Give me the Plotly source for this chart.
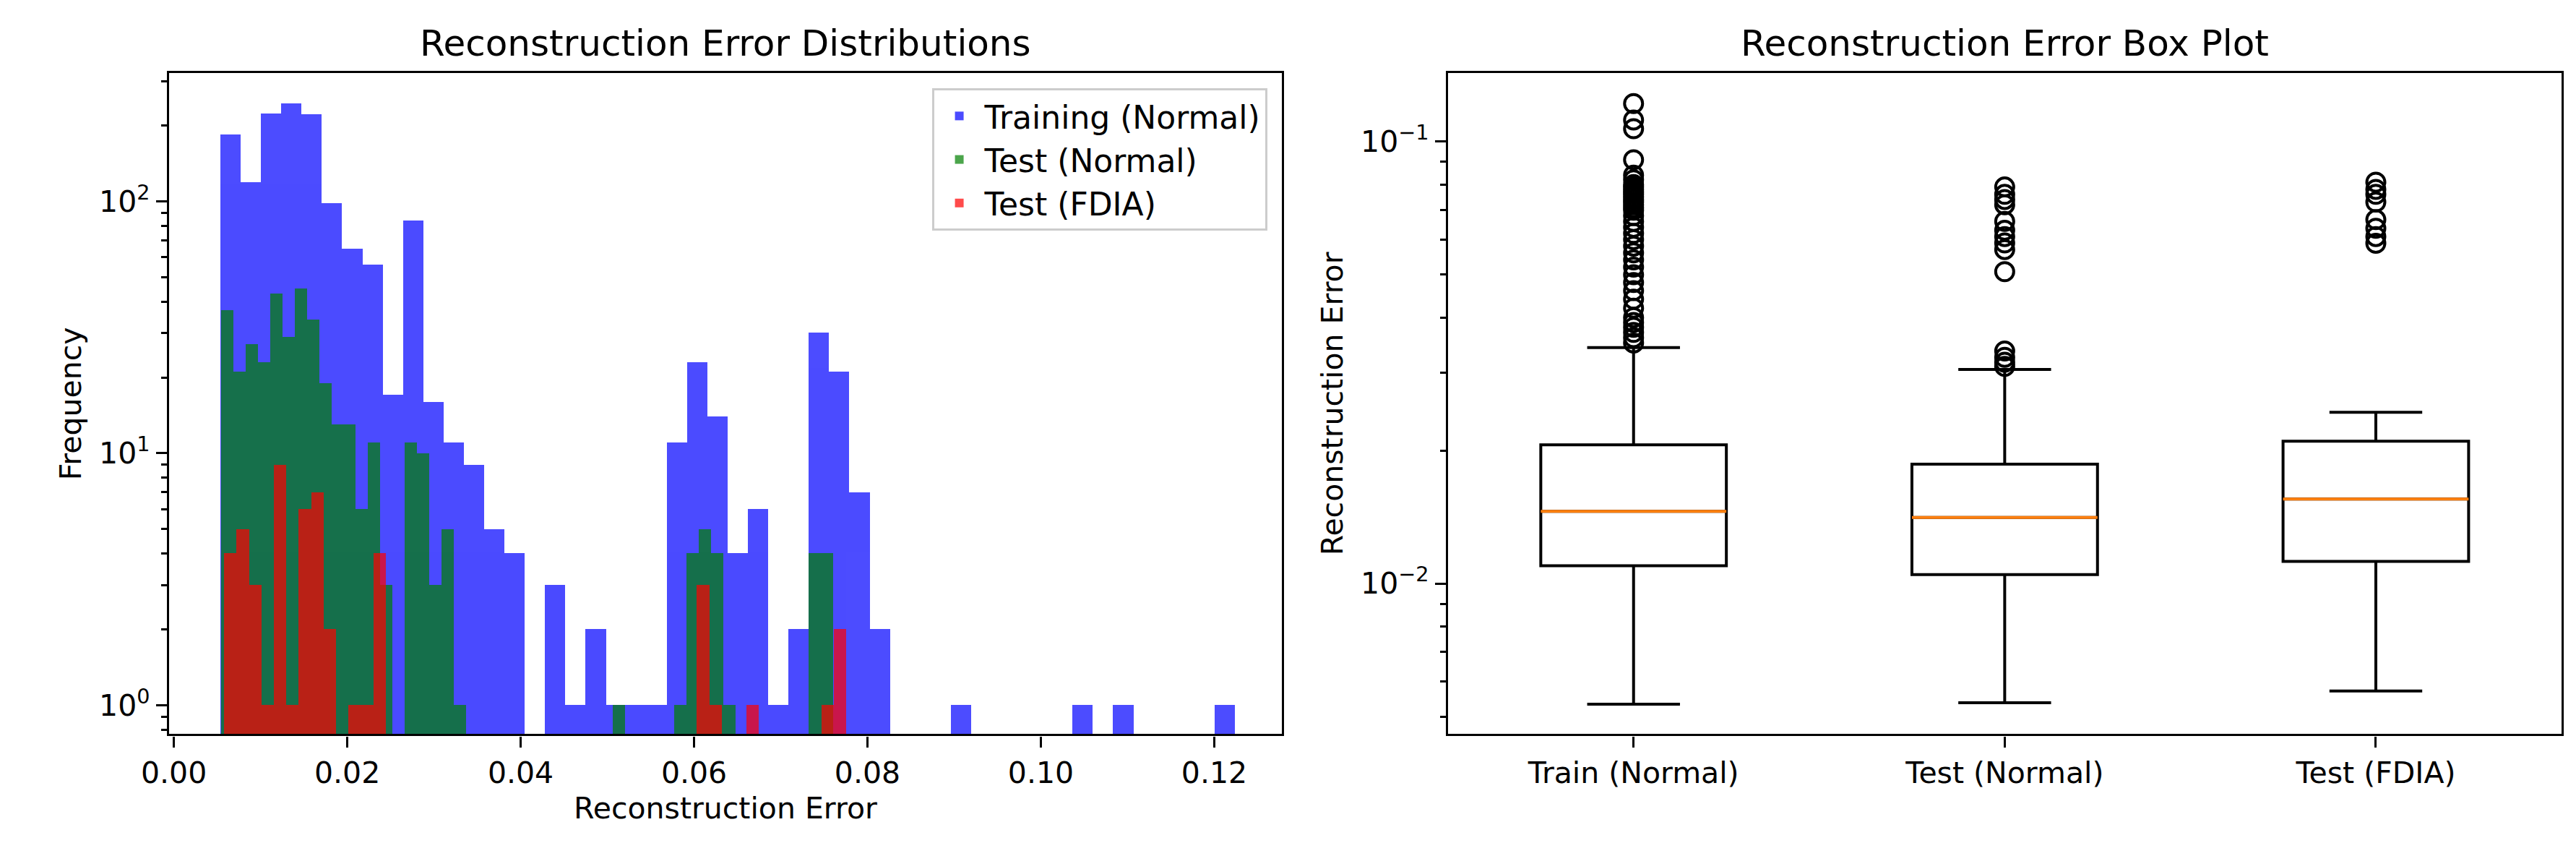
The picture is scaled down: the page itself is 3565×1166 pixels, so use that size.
import plotly.graph_objects as go

# histogram counts (50 bins each)
train_start, train_width = 0.00536, 0.00234
train_counts = [184, 119, 223, 245, 221, 98, 65, 56, 17, 84,
                16, 11, 9, 5, 4, 0, 3, 1, 2, 1,
                1, 1, 11, 23, 14, 4, 6, 1, 2, 30,
                21, 7, 2, 0, 0, 0, 1, 0, 0, 0,
                0, 0, 1, 0, 1, 0, 0, 0, 0, 1]
testn_start, testn_width = 0.005445, 0.001412
testn_counts = [37, 21, 27, 23, 43, 29, 45, 34, 19, 13,
                13, 6, 11, 3, 0, 11, 10, 3, 5, 1,
                0, 0, 0, 0, 0, 0, 0, 0, 0, 0,
                0, 0, 1, 0, 0, 0, 0, 1, 4, 5,
                4, 1, 0, 0, 0, 0, 0, 0, 4, 4]
fdia_start, fdia_width = 0.00578, 0.001435
fdia_counts = [4, 5, 3, 1, 9, 1, 6, 7, 2, 0,
               1, 1, 4, 0, 0, 0, 0, 0, 0, 0,
               0, 0, 0, 0, 0, 0, 0, 0, 0, 0,
               0, 0, 0, 0, 0, 0, 0, 0, 3, 1,
               0, 0, 1, 0, 0, 0, 0, 0, 1, 2]

# box plot statistics
box_labels = ["Train (Normal)", "Test (Normal)", "Test (FDIA)"]
box_low = [0.00533, 0.00537, 0.00571]
box_q1 = [0.01097, 0.01047, 0.01122]
box_med = [0.01456, 0.01411, 0.01553]
box_q3 = [0.0206, 0.01862, 0.0210]
box_high = [0.0342, 0.0305, 0.0244]
fliers = [
    [0.122, 0.112, 0.107, 0.091, 0.084, 0.082, 0.080, 0.079, 0.078, 0.077, 0.076,
     0.075, 0.074, 0.073, 0.072, 0.071, 0.070, 0.068, 0.066, 0.064, 0.062, 0.060,
     0.058, 0.056, 0.054, 0.052, 0.050, 0.048, 0.046, 0.044, 0.042, 0.040, 0.039,
     0.038, 0.037, 0.036, 0.035],
    [0.079, 0.076, 0.074, 0.072, 0.066, 0.063, 0.061, 0.059, 0.057, 0.0508,
     0.0336, 0.0325, 0.0317, 0.031],
    [0.081, 0.078, 0.076, 0.073, 0.0666, 0.0637, 0.061, 0.0589],
]

hist_minor = [0.8, 0.9] + [k for k in range(2, 10)] + [10 * k for k in range(2, 10)] + [200, 300]
box_minor = [0.001 * k for k in range(5, 10)] + [0.01 * k for k in range(2, 10)] + [0.2]

FONT = "DejaVu Sans"
fig = go.Figure()

for name, start, width, counts, color in [
    ("Training (Normal)", train_start, train_width, train_counts, "blue"),
    ("Test (Normal)", testn_start, testn_width, testn_counts, "green"),
    ("Test (FDIA)", fdia_start, fdia_width, fdia_counts, "red"),
]:
    xs = [start + width * (i + 0.5) for i in range(len(counts))]
    ys = [c if c > 0 else None for c in counts]
    fig.add_bar(x=xs, y=ys, width=width, name=name, marker_color=color,
                marker_line_width=0, opacity=0.7, xaxis="x", yaxis="y")

for i, lab in enumerate(box_labels):
    p = i + 1
    fig.add_trace(go.Box(x=[p], q1=[box_q1[i]], median=[box_med[i]], q3=[box_q3[i]],
                         lowerfence=[box_low[i]], upperfence=[box_high[i]],
                         width=0.5, whiskerwidth=0.5, fillcolor="white",
                         line=dict(color="black", width=4), boxpoints=False,
                         showlegend=False, xaxis="x2", yaxis="y2"))
    fig.add_scatter(x=[p - 0.25, p + 0.25], y=[box_med[i]] * 2, mode="lines",
                    line=dict(color="#ff7f0e", width=4), showlegend=False,
                    xaxis="x2", yaxis="y2")
    fig.add_scatter(x=[p] * len(fliers[i]), y=fliers[i], mode="markers",
                    marker=dict(symbol="circle-open", size=25, color="black",
                                line=dict(width=4)),
                    showlegend=False, xaxis="x2", yaxis="y2")

axis_common = dict(showline=True, linecolor="black", linewidth=3.3, mirror=True,
                   ticks="outside", ticklen=15, tickwidth=3.3, tickcolor="black",
                   showgrid=False, zeroline=False,
                   tickfont=dict(family=FONT, size=41, color="black"))

fig.update_layout(
    width=3565, height=1166, margin=dict(l=0, r=0, t=0, b=0),
    plot_bgcolor="white", paper_bgcolor="white", barmode="overlay", bargap=0,
    font=dict(family=FONT, size=41, color="black"),
    xaxis=dict(axis_common, domain=[0.053, 0.4898], range=[-0.00056, 0.1278],
               tickvals=[0, 0.02, 0.04, 0.06, 0.08, 0.10, 0.12], tickformat=".2f",
               title=dict(text="Reconstruction Error", font=dict(size=41), standoff=12),
               anchor="y"),
    yaxis=dict(axis_common, domain=[0.136, 0.920], type="log", range=[-0.115, 2.509],
               tickvals=[1, 10, 100],
               ticktext=["10<sup>0</sup>", "10<sup>1</sup>", "10<sup>2</sup>"],
               minor=dict(tickvals=hist_minor, ticks="outside", ticklen=8,
                          tickwidth=2.5, tickcolor="black", showgrid=False),
               title=dict(text="Frequency", font=dict(size=41), standoff=12),
               anchor="x"),
    xaxis2=dict(axis_common, domain=[0.555, 0.992], range=[0.5, 3.5],
                tickvals=[1, 2, 3], ticktext=box_labels, anchor="y2"),
    yaxis2=dict(axis_common, domain=[0.136, 0.920], type="log", range=[-2.341, -0.845],
                tickvals=[0.01, 0.1],
                ticktext=["10<sup>−2</sup>", "10<sup>−1</sup>"],
                minor=dict(tickvals=box_minor, ticks="outside", ticklen=8,
                           tickwidth=2.5, tickcolor="black", showgrid=False),
                title=dict(text="Reconstruction Error", font=dict(size=41), standoff=12),
                anchor="x2"),
    legend=dict(x=0.484, y=0.902, xanchor="right", yanchor="top",
                bgcolor="rgba(255,255,255,0.8)", bordercolor="#cccccc", borderwidth=3,
                font=dict(family=FONT, size=44), itemwidth=60, tracegroupgap=0),
    annotations=[
        dict(text="Reconstruction Error Distributions", x=0.2714, y=0.920,
             xref="paper", yref="paper", xanchor="center", yanchor="bottom",
             yshift=10, showarrow=False, font=dict(family=FONT, size=50)),
        dict(text="Reconstruction Error Box Plot", x=0.7735, y=0.920,
             xref="paper", yref="paper", xanchor="center", yanchor="bottom",
             yshift=10, showarrow=False, font=dict(family=FONT, size=50)),
    ],
)

fig.write_html("out.html")
